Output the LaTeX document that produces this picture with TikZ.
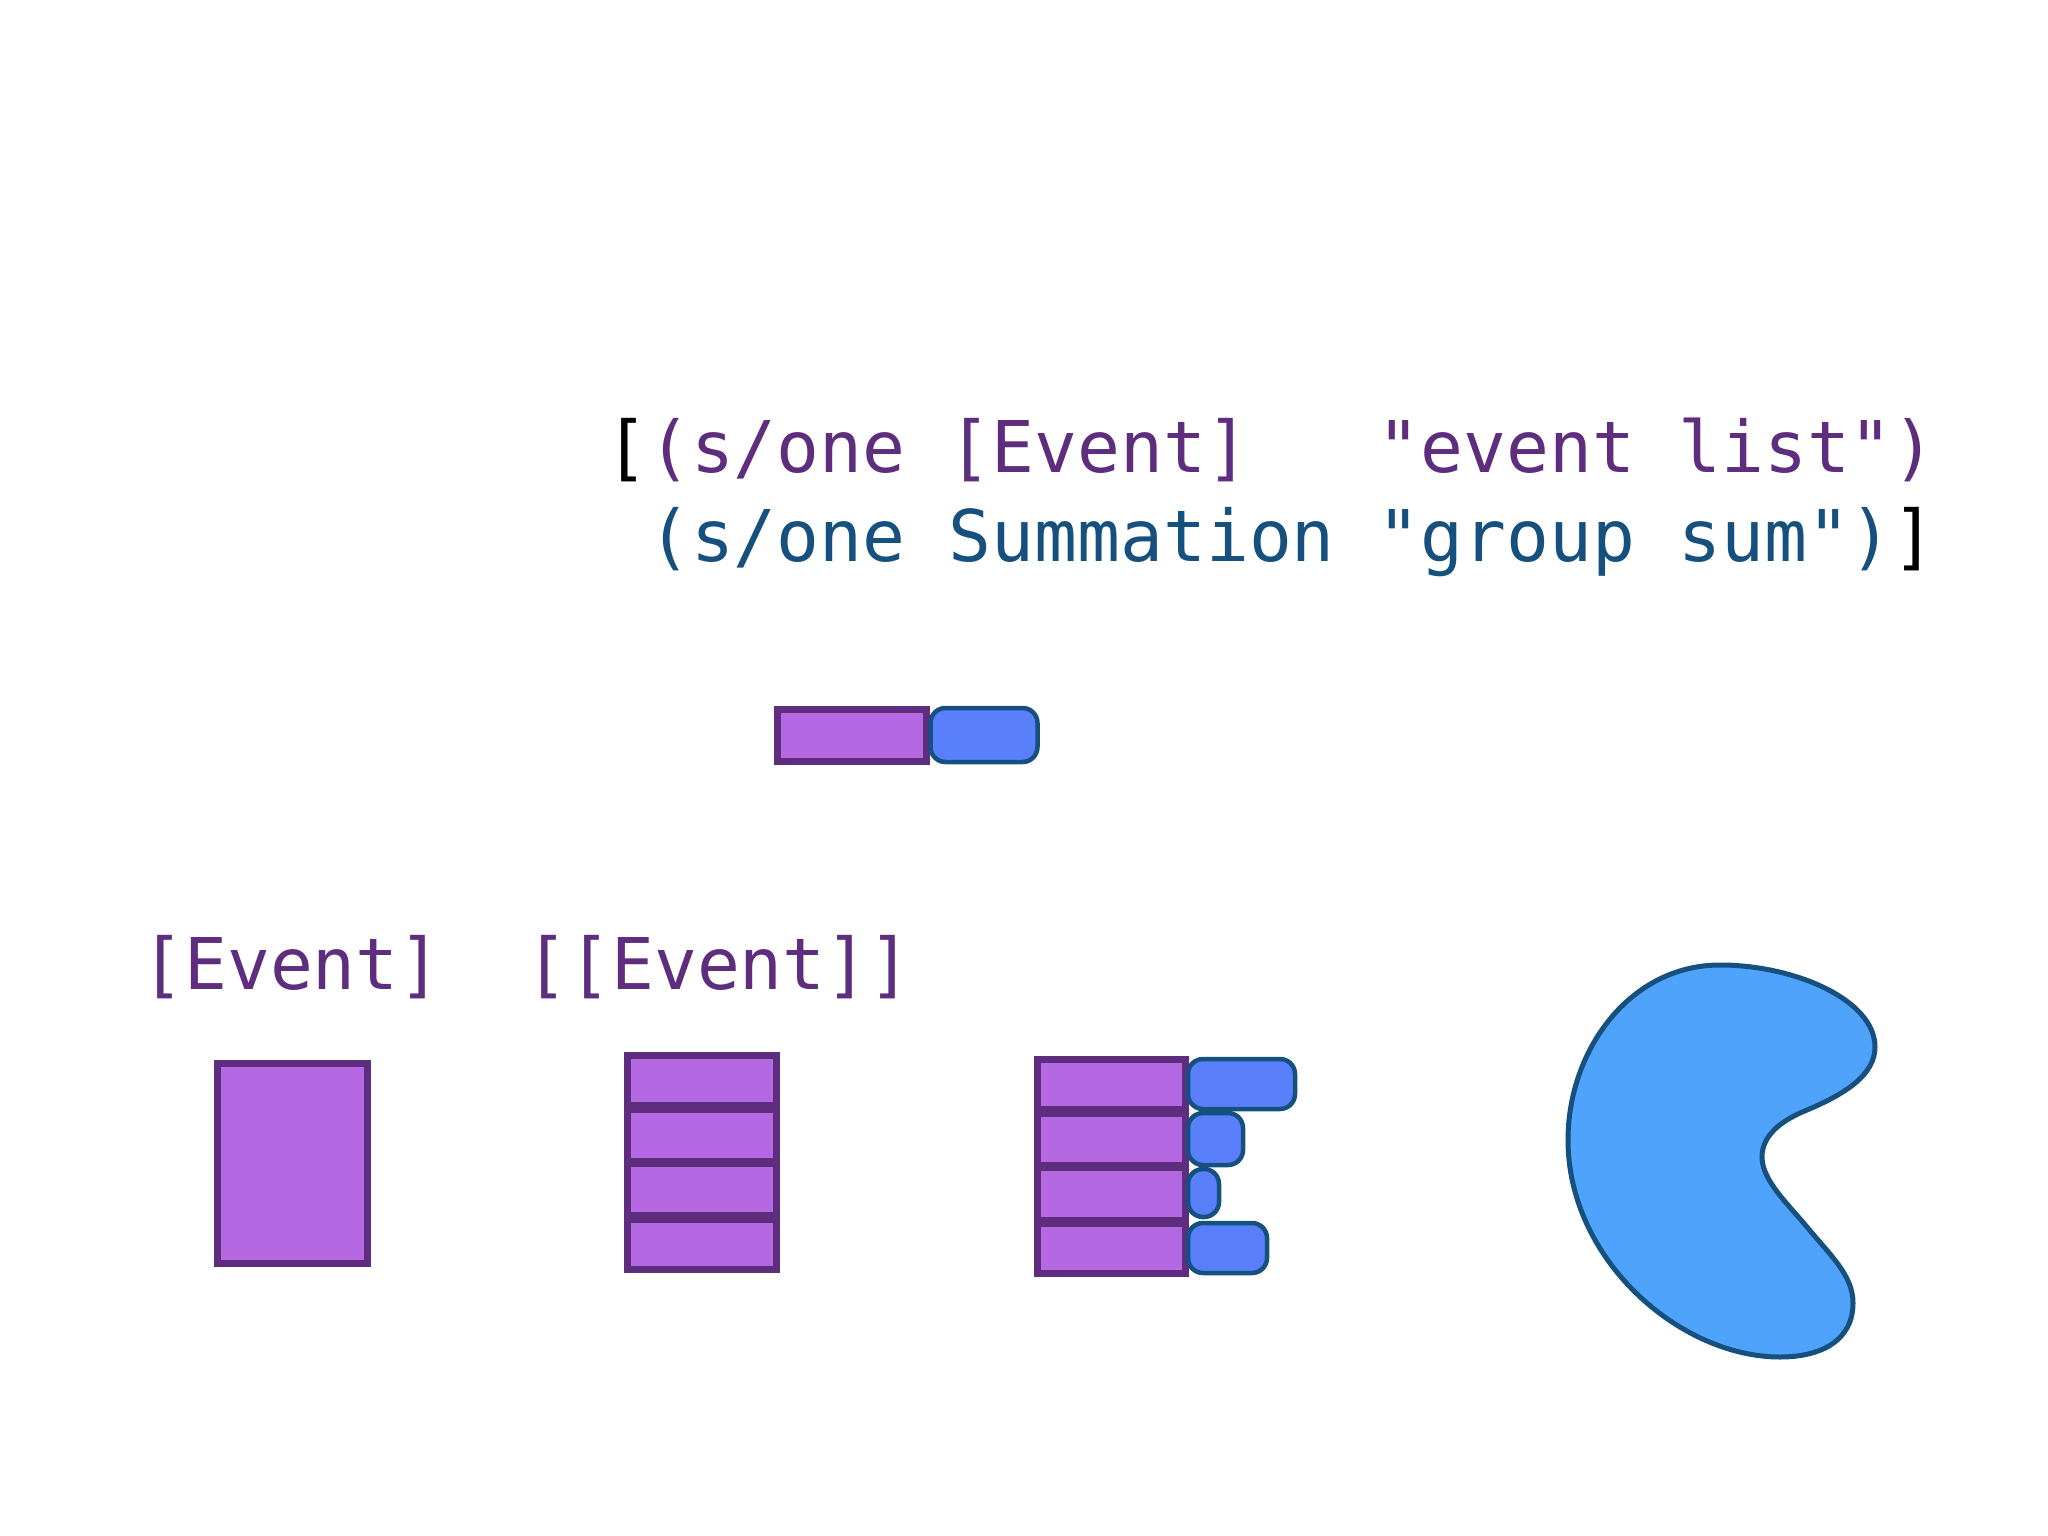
\documentclass[tikz,border=0pt]{standalone}
\usepackage{fontspec}
\newfontfamily\codefont{DejaVu Sans Mono}
\definecolor{eventline}{HTML}{5F2D7E}
\definecolor{eventfill}{HTML}{B469E3}
\definecolor{sumline}{HTML}{15507F}
\definecolor{sumfill}{HTML}{5A7FFA}
\definecolor{blobfill}{HTML}{4FA3FA}
\tikzset{
	eventbar/.style={draw=eventline, fill=eventfill, line width=7pt, inner sep=0pt, outer sep=0pt},
	sumbar/.style={draw=sumline, fill=sumfill, line width=4.5pt, inner sep=0pt, outer sep=0pt, rounded corners=15pt},
	code/.style={inner sep=0pt, font=\codefont\fontsize{71.3pt}{71.3pt}\selectfont}
}

\begin{document}
\begin{tikzpicture}[x=1pt, y=-1pt]
	\useasboundingbox (0,0) rectangle (2048,1536);

	\draw (605,472) node[code, anchor=base west, text=eventline] (lineone) {\textcolor{black}{[}(s/one [Event]~~~"event list")};
	\draw (605,561) node[code, anchor=base west, text=sumline] (linetwo) {~(s/one Summation "group sum")\textcolor{black}{]}};
	\draw (291.5,989) node[code, anchor=base, text=eventline] (single) {[Event]};
	\draw (718.5,989) node[code, anchor=base, text=eventline] (nested) {[[Event]]};

	\draw (851.5,735) node[eventbar, minimum width=149pt, minimum height=52pt] (row) {};
	\draw (984,735) node[sumbar, minimum width=107pt, minimum height=54pt] (rowsum) {};

	\draw (292,1163) node[eventbar, minimum width=150pt, minimum height=200pt] (whole) {};

	\draw (701.5,1080) node[eventbar, minimum width=149pt, minimum height=50pt] (A1) {};
	\draw (701.5,1135) node[eventbar, minimum width=149pt, minimum height=52pt] (A2) {};
	\draw (701.5,1189) node[eventbar, minimum width=149pt, minimum height=52pt] (A3) {};
	\draw (701.5,1244) node[eventbar, minimum width=149pt, minimum height=50pt] (A4) {};

	\draw (1111,1084) node[eventbar, minimum width=148pt, minimum height=50pt] (B1) {};
	\draw (1111,1139) node[eventbar, minimum width=148pt, minimum height=52pt] (B2) {};
	\draw (1111,1193.5) node[eventbar, minimum width=148pt, minimum height=53pt] (B3) {};
	\draw (1111,1248) node[eventbar, minimum width=148pt, minimum height=50pt] (B4) {};

	\draw (1241.5,1084) node[sumbar, minimum width=107pt, minimum height=50pt] (C1) {};
	\draw (1215.5,1139) node[sumbar, minimum width=55pt, minimum height=52pt] (C2) {};
	\draw (1203.5,1193) node[sumbar, minimum width=31pt, minimum height=48pt] (C3) {};
	\draw (1227.5,1248) node[sumbar, minimum width=79pt, minimum height=50pt] (C4) {};

	\draw[draw=sumline, fill=blobfill, line width=5pt]
		(1720,965) .. controls (1795,965) and (1875,1000) .. (1875,1047)
		.. controls (1875,1075) and (1845,1094) .. (1807,1110)
		.. controls (1782,1120) and (1762,1135) .. (1762,1157)
		.. controls (1762,1180) and (1787,1203) .. (1807,1227)
		.. controls (1830,1255) and (1853,1275) .. (1853,1303)
		.. controls (1853,1340) and (1822,1357) .. (1780,1357)
		.. controls (1680,1357) and (1568,1260) .. (1568,1140)
		.. controls (1568,1050) and (1630,965) .. (1720,965) -- cycle;
\end{tikzpicture}
\end{document}
